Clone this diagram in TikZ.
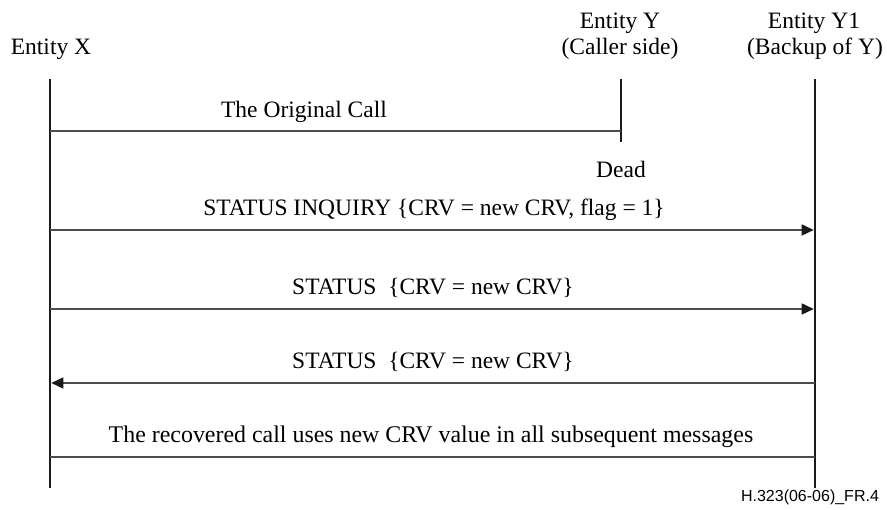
\documentclass[tikz,border=0pt]{standalone}
\usepackage{fontspec}
\setmainfont{Liberation Serif}
\newfontfamily\figsans{Liberation Sans}
\usetikzlibrary{arrows.meta}
\begin{document}
\begin{tikzpicture}[x=1pt,y=1pt,
  lbl/.style={inner sep=0pt,anchor=base,font=\fontsize{23.5}{28}\selectfont},
  life/.style={line width=2.6pt,black!90},
  msg/.style={line width=1.6pt,black!70},
  arr/.style={msg,-{Triangle[length=12pt,width=11pt,color=black!90]}}]
\useasboundingbox (0,0) rectangle (887,510);
% headers
\node[lbl] (hx) at (51,455) {Entity X};
\node[lbl] (hy1) at (620,481) {Entity Y};
\node[lbl] (hy2) at (620,455) {(Caller side)};
\node[lbl] (hz1) at (814,481) {Entity Y1};
\node[lbl] (hz2) at (815,455) {(Backup of Y)};
% lifelines
\coordinate (xt) at (50,431);
\coordinate (xb) at (50,22);
\coordinate (yt) at (621,431);
\coordinate (yb) at (621,368);
\coordinate (zt) at (815,431);
\coordinate (zb) at (815,22);
\draw[life] (xt) -- (xb);
\draw[life] (yt) -- (yb);
\draw[life] (zt) -- (zb);
% message anchors
\coordinate (x1) at (50,379);  \coordinate (y1) at (621,379);
\coordinate (x2) at (50,280);  \coordinate (z2) at (815,280);
\coordinate (x3) at (50,201);  \coordinate (z3) at (815,201);
\coordinate (x4) at (50,127);  \coordinate (z4) at (815,127);
\coordinate (x5) at (50,53);   \coordinate (z5) at (815,53);
% messages
\draw[msg] (x1) -- (y1);
\node[lbl] (m1) at (304,392.5) {The Original Call};
\node[lbl] (dead) at (621,332) {Dead};
\draw[arr] (x2) -- ([xshift=-1.3pt]z2);
\node[lbl] (m2) at (434,294) {STATUS INQUIRY \{CRV = new CRV, flag = 1\}};
\draw[arr] (x3) -- ([xshift=-1.3pt]z3);
\node[lbl] (m3) at (433,215) {STATUS\ \ \{CRV = new CRV\}};
\draw[arr] (z4) -- ([xshift=1.3pt]x4);
\node[lbl] (m4) at (433,141) {STATUS\ \ \{CRV = new CRV\}};
\draw[msg] (x5) -- (z5);
\node[lbl,font=\fontsize{23.9}{28}\selectfont] (m5) at (431,67) {The recovered call uses new CRV value in all subsequent messages};
% footer
\node[inner sep=0pt,font=\figsans\fontsize{16}{19}\selectfont] (ft) at (810,13) {H.323(06-06)\_FR.4};
\end{tikzpicture}
\end{document}
